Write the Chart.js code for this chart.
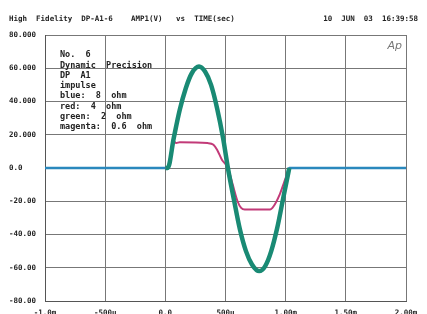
<!DOCTYPE html>
<html>
<head>
<meta charset="utf-8">
<script src="https://cdn.jsdelivr.net/npm/chart.js@4"></script>
<style>
  html, body { margin: 0; padding: 0; background: #fff; overflow: hidden; }
  #wrap { width: 427px; height: 322px; }
</style>
</head>
<body>
<div id="wrap"><canvas id="ampChart" width="427" height="322"></canvas></div>
<script>
'use strict'

// time in ms
const xTicks = [-1.0, -0.5, 0.0, 0.5, 1.0, 1.5, 2.0];
const xTickLabels = ['-1.0m', '-500u', '0.0', '500u', '1.00m', '1.50m', '2.00m'];
const yTickLabels = {80: '80.000', 60: '60.000', 40: '40.000', 20: '20.000', 0: '0.0',
    '-20': '-20.00', '-40': '-40.00', '-60': '-60.00', '-80': '-80.00'};

const greenTime = [0.0, 0.02, 0.07, 0.12, 0.17, 0.22, 0.28, 0.33, 0.38, 0.43, 0.48, 0.52,
    0.57, 0.62, 0.67, 0.72, 0.78, 0.83, 0.88, 0.93, 0.98, 1.03];
const greenAmp = [0, 0, 18, 35, 48, 57, 61, 58, 50, 36, 18, 0,
    -19, -37, -50, -58, -62, -59, -50, -36, -18, 0];

const blueTime = [-1.0, 0.0, 0.02, 0.07, 0.12, 0.17, 0.22, 0.28, 0.33, 0.38, 0.43, 0.48, 0.52,
    0.57, 0.62, 0.67, 0.72, 0.78, 0.83, 0.88, 0.93, 0.98, 1.03, 2.0];
const blueAmp = [0, 0, 0, 18, 35, 48, 57, 61, 58, 50, 36, 18, 0,
    -19, -37, -50, -58, -62, -59, -50, -36, -18, 0, 0];

const redTime = [0.0, 0.02, 0.05, 0.07, 0.09, 0.12, 0.35, 0.40, 0.43, 0.47, 0.52,
    0.56, 0.60, 0.63, 0.66, 0.87, 0.90, 0.95, 0.99, 1.03];
const redAmp = [0, 0, 11, 16, 15, 15.5, 15, 14, 11, 5, 0,
    -10, -20, -24, -25, -25, -23, -16, -8, 0];

const noteLines = ['No.  6', 'Dynamic  Precision', 'DP  A1', 'impulse', 'blue:  8  ohm',
    'red:  4  ohm', 'green:  2  ohm', 'magenta:  0.6  ohm'];

const monoFont = 'bold 7.5px "DejaVu Sans Mono", "Liberation Mono", monospace';

function toPoints(xs, ys) {
    return xs.map((x, i) => ({x: x, y: ys[i]}));
}

const overlay = {
    id: 'overlay',
    afterDraw(chart) {
        const ctx = chart.ctx;
        const area = chart.chartArea;
        ctx.save();
        ctx.fillStyle = '#222';
        ctx.font = monoFont;
        ctx.textBaseline = 'middle';
        ctx.textAlign = 'left';
        ctx.fillText('High  Fidelity  DP-A1-6    AMP1(V)   vs  TIME(sec)', 9, 19);
        ctx.textAlign = 'right';
        ctx.fillText('10  JUN  03  16:39:58', 418, 19);
        ctx.textAlign = 'left';
        ctx.font = 'bold 8.5px "DejaVu Sans Mono", "Liberation Mono", monospace';
        noteLines.forEach((line, i) => {
            ctx.fillText(line, 60, 55 + i * 10.3);
        });
        ctx.fillStyle = '#777';
        ctx.font = 'italic 11px "DejaVu Sans", sans-serif';
        ctx.textAlign = 'right';
        ctx.fillText('Ap', area.right - 4, area.top + 11);
        ctx.restore();
    }
};

const ctx = document.getElementById('ampChart').getContext('2d');
const ampChart = new Chart(ctx, {
    type: 'line',
    data: {
        datasets: [{
            label: 'green',
            data: toPoints(greenTime, greenAmp),
            borderColor: '#198a74',
            borderWidth: 4.5,
            pointRadius: 0,
            cubicInterpolationMode: 'monotone',
            order: 1
        }, {
            label: 'magenta',
            data: toPoints(redTime, redAmp),
            borderColor: '#c23a78',
            borderWidth: 2,
            pointRadius: 0,
            cubicInterpolationMode: 'monotone',
            order: 2
        }, {
            label: 'blue',
            data: toPoints(blueTime, blueAmp),
            borderColor: '#2a88bd',
            borderWidth: 2.5,
            pointRadius: 0,
            cubicInterpolationMode: 'monotone',
            order: 3
        }]
    },
    options: {
        responsive: false,
        animation: false,
        events: [],
        layout: { padding: { top: 35, right: 21, left: 9, bottom: 0 } },
        plugins: {
            legend: { display: false },
            tooltip: { enabled: false }
        },
        scales: {
            x: {
                type: 'linear',
                min: -1.0,
                max: 2.0,
                afterBuildTicks: (scale) => { scale.ticks = xTicks.map(v => ({value: v})); },
                afterFit: (scale) => { scale.height = 21; },
                grid: { color: '#777', lineWidth: 1, drawTicks: false },
                border: { color: '#555', width: 1 },
                ticks: {
                    padding: 8,
                    maxRotation: 0,
                    autoSkip: false,
                    color: '#222',
                    font: { family: '"DejaVu Sans Mono", monospace', size: 7.5, weight: 'bold' },
                    callback: (v) => xTickLabels[xTicks.indexOf(v)]
                }
            },
            y: {
                min: -80,
                max: 80,
                afterFit: (scale) => { scale.width = 36; },
                grid: { color: '#777', lineWidth: 1, drawTicks: false },
                border: { color: '#555', width: 1 },
                ticks: {
                    stepSize: 20,
                    crossAlign: 'far',
                    padding: 4,
                    color: '#222',
                    font: { family: '"DejaVu Sans Mono", monospace', size: 7.5, weight: 'bold' },
                    callback: (v) => yTickLabels[v]
                }
            }
        }
    },
    plugins: [overlay]
});
</script>
</body>
</html>
